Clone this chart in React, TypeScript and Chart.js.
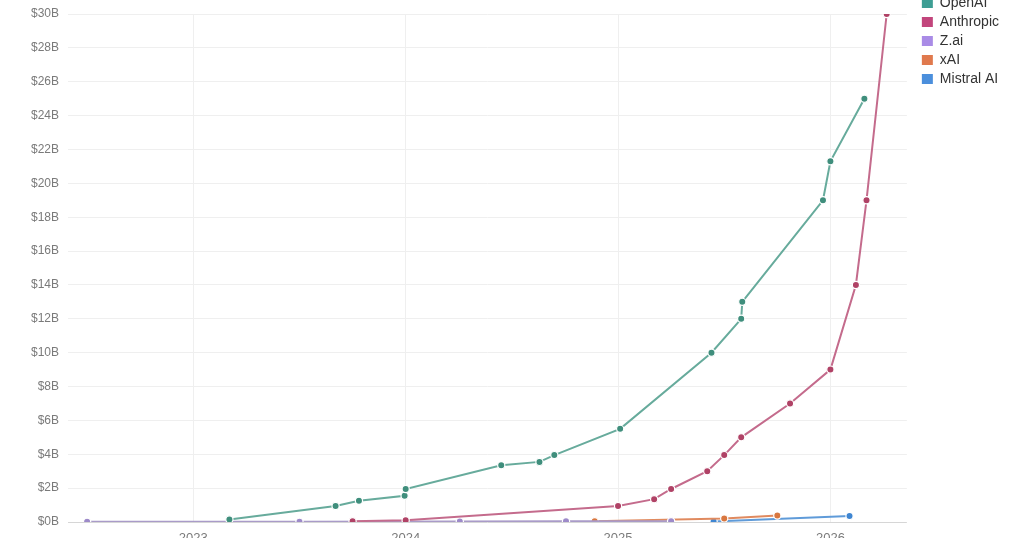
import React, { useEffect, useRef } from "react";
import { Chart, registerables } from "chart.js";

Chart.register(...registerables);

// ---- data (x = decimal year, y = annualized revenue in $B) ----
const seriesNames = ["OpenAI", "Anthropic", "Z.ai", "xAI", "Mistral AI"];

const openaiYears = [2023.17, 2023.67, 2023.78, 2023.995, 2024.0, 2024.45, 2024.63, 2024.7, 2025.01, 2025.44, 2025.58, 2025.585, 2025.965, 2026.0, 2026.16];
const openaiRevenue = [0.15, 0.95, 1.25, 1.55, 1.95, 3.35, 3.55, 3.95, 5.5, 10, 12, 13, 19, 21.3, 25];

const anthropicYears = [2023.75, 2024.0, 2025.0, 2025.17, 2025.25, 2025.42, 2025.5, 2025.58, 2025.81, 2026.0, 2026.12, 2026.17, 2026.265];
const anthropicRevenue = [0.05, 0.1, 0.95, 1.35, 1.95, 3, 3.95, 5, 7, 9, 14, 19, 30];

const zaiYears = [2022.5, 2023.5, 2024.255, 2024.755, 2025.25];
const zaiRevenue = [0.01, 0.02, 0.03, 0.04, 0.05];

const xaiYears = [2024.89, 2025.5, 2025.75];
const xaiRevenue = [0.05, 0.2, 0.38];

const mistralYears = [2025.45, 2026.09];
const mistralRevenue = [0.03, 0.35];

const yearTicks = [2023, 2024, 2025, 2026];
const revenueTicks = [0, 2, 4, 6, 8, 10, 12, 14, 16, 18, 20, 22, 24, 26, 28, 30];

const legendColors = ["#3e9e94", "#c2457c", "#a98be6", "#e0794d", "#4b8fdc"];
const lineColors = ["#67ab9c", "#c46b8c", "#a99bc8", "#e08a5f", "#5f9bd9"];
const pointColors = ["#3f8e7c", "#b04266", "#9d8ac9", "#d9773f", "#3f86d2"];

const FONT = "'Liberation Sans', Arial, Helvetica, sans-serif";

const zip = (xs: number[], ys: number[]) => xs.map((x, i) => ({ x, y: ys[i] }));

const legendPlacement = {
  id: "legendPlacement",
  afterLayout(chart: any) {
    const l = chart.legend;
    if (!l) return;
    const dx = chart.chartArea.right + 10 - l.left;
    l.left += dx;
    l.right += dx;
    l.top = 0;
  },
};

export default function App() {
  const ref = useRef<HTMLCanvasElement | null>(null);

  useEffect(() => {
    if (!ref.current) return;
    const xs = [openaiYears, anthropicYears, zaiYears, xaiYears, mistralYears];
    const ys = [openaiRevenue, anthropicRevenue, zaiRevenue, xaiRevenue, mistralRevenue];
    const datasets = seriesNames.map((name, i) => ({
      label: name,
      data: zip(xs[i], ys[i]),
      borderColor: lineColors[i],
      backgroundColor: legendColors[i],
      borderWidth: 2,
      pointRadius: 3.6,
      pointBorderWidth: 1.2,
      pointBorderColor: "#ffffff",
      pointBackgroundColor: pointColors[i],
      tension: 0,
      fill: false,
    }));

    const chart = new Chart(ref.current, {
      type: "line",
      data: { datasets },
      plugins: [legendPlacement],
      options: {
        animation: false,
        responsive: false,
        layout: { autoPadding: false, padding: { top: 23, right: 25, bottom: 0, left: 0 } },
        plugins: {
          tooltip: { enabled: false },
          legend: {
            position: "right",
            align: "start",
            labels: {
              boxWidth: 11,
              boxHeight: 10,
              padding: 5,
              color: "#333333",
              font: { family: FONT, size: 14 },
              generateLabels: (c: any) =>
                Chart.defaults.plugins.legend.labels.generateLabels(c).map((l: any) => ({
                  ...l,
                  lineWidth: 0,
                  strokeStyle: l.fillStyle,
                })),
            },
          },
        },
        scales: {
          x: {
            type: "linear",
            min: 2022.41,
            max: 2026.36,
            afterBuildTicks: (s: any) => {
              s.ticks = yearTicks.map((v) => ({ value: v }));
            },
            afterFit: (s: any) => {
              s.height = 30;
            },
            ticks: {
              autoSkip: false,
              maxRotation: 0,
              padding: 9,
              color: "#7a7a7a",
              font: { family: FONT, size: 13 },
              callback: (v: any) => String(v),
            },
            grid: { color: "#efefef", drawTicks: false, lineWidth: 1 },
            border: { display: false },
          },
          y: {
            type: "linear",
            min: 0,
            max: 30,
            afterBuildTicks: (s: any) => {
              s.ticks = revenueTicks.map((v) => ({ value: v }));
            },
            afterFit: (s: any) => {
              s.width = 68;
            },
            ticks: {
              padding: 9,
              color: "#7a7a7a",
              font: { family: FONT, size: 12 },
              callback: (v: any) => "$" + v + "B",
            },
            grid: {
              drawTicks: false,
              lineWidth: 1,
              color: (ctx: any) => (ctx.tick && ctx.tick.value === 0 ? "#d6d6d6" : "#efefef"),
            },
            border: { display: false },
          },
        },
      },
    });
    return () => chart.destroy();
  }, []);

  return (
    <div
      style={{
        position: "absolute",
        left: 0,
        top: 0,
        width: 1024,
        height: 538,
        overflow: "hidden",
        background: "#ffffff",
      }}
    >
      <canvas
        ref={ref}
        width={1024}
        height={561}
        style={{ position: "absolute", left: 0, top: -9, width: 1024, height: 561 }}
      />
    </div>
  );
}
